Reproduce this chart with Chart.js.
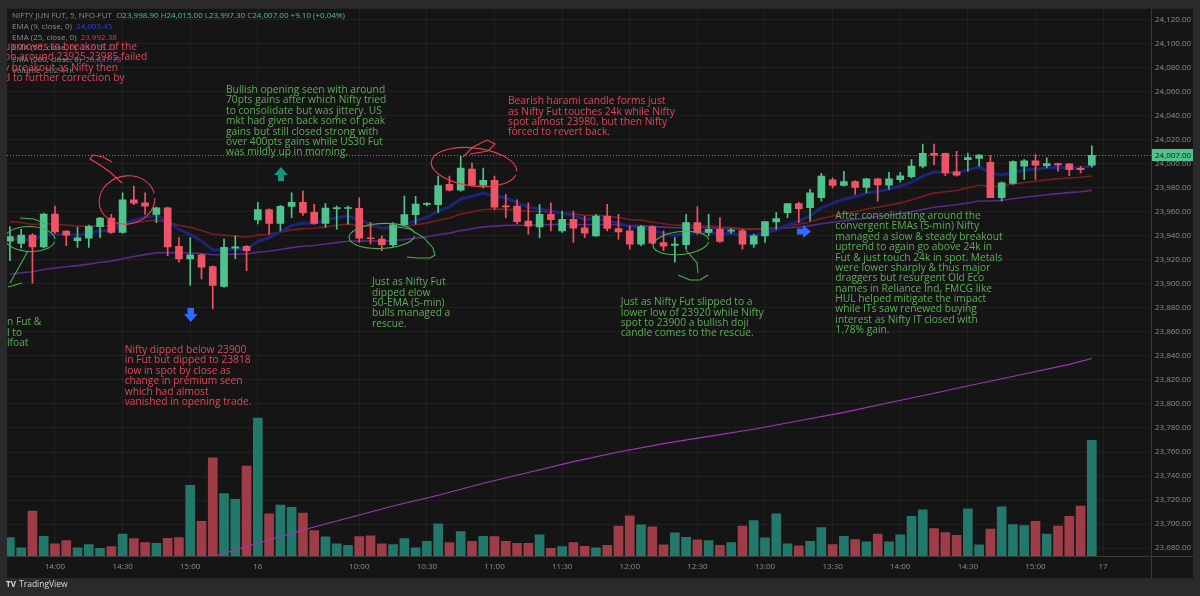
<!DOCTYPE html>
<html>
<head>
<meta charset="utf-8">
<title>NIFTY JUN FUT 5m</title>
<script src="https://cdn.jsdelivr.net/npm/chart.js@4.4.0/dist/chart.umd.min.js"></script>
<style>
  html, body { margin: 0; padding: 0; background: #2a2a2a; }
  canvas { display: block; }
</style>
</head>
<body>
<canvas id="chart" width="1200" height="596"></canvas>
<script>
// bar index 0 = 13:40 on the 15th, index 22 = 09:15 on the 16th (5-min bars)
const opens = [
  23935.6, 23933.7, 23940.6, 23930.9, 23958.2, 23943.9, 23935.9, 23938.1, 23947.7, 23954.9,
  23942.8, 23970.1, 23967.5, 23957.9, 23963.4, 23931.2, 23920.7, 23924.3, 23914.4, 23897.9,
  23929.8, 23931.2, 23953.3, 23961.8, 23950.3, 23964.6, 23967.9, 23959.6, 23950.3, 23962.7,
  23962.8, 23962.9, 23938.3, 23937.3, 23932.6, 23949.2, 23957.7, 23966.2, 23966.0, 23983.0,
  23978.1, 23995.7, 23982.2, 23986.3, 23964.6, 23964.8, 23952.4, 23947.5, 23957.9, 23944.1,
  23953.8, 23946.6, 23940.0, 23956.5, 23946.1, 23944.1, 23933.1, 23947.7, 23934.5, 23932.1,
  23932.6, 23951.0, 23942.8, 23945.5, 23944.0, 23944.1, 23933.1, 23940.0, 23951.6, 23959.4,
  23966.8, 23963.5, 23971.8, 23986.7, 23982.0, 23985.3, 23980.3, 23987.5, 23982.2, 23986.9,
  23989.4, 23998.0, 24008.7, 24008.7, 23993.3, 24003.5, 24004.6, 24001.3, 23971.8, 23983.6,
  23998.0, 24002.4, 23998.5, 24000.2, 23999.9, 23996.3, 23998.9
];
const highs = [
  23947.7, 23945.5, 23942.0, 23959.0, 23964.8, 23944.5, 23947.2, 23949.0, 23955.5, 23958.0,
  23975.8, 23981.4, 23975.8, 23964.0, 23964.0, 23938.6, 23938.6, 23925.0, 23915.0, 23937.3,
  23940.0, 23932.0, 23968.0, 23962.5, 23965.5, 23975.9, 23977.3, 23966.2, 23966.8, 23964.9,
  23964.9, 23971.7, 23951.1, 23940.0, 23951.1, 23973.1, 23973.0, 23967.8, 23989.7, 23989.7,
  24006.2, 24000.7, 23996.5, 23989.7, 23974.5, 23970.0, 23967.6, 23966.2, 23967.6, 23960.7,
  23960.7, 23956.5, 23957.9, 23966.2, 23957.9, 23948.3, 23948.8, 23948.3, 23944.1, 23938.6,
  23957.9, 23964.3, 23957.9, 23955.2, 23946.0, 23945.5, 23941.4, 23952.0, 23959.3, 23966.8,
  23968.0, 23978.7, 23992.0, 23988.3, 23993.8, 23986.0, 23988.0, 23988.0, 23993.0, 23993.0,
  24003.5, 24016.4, 24016.4, 24009.0, 24010.3, 24009.0, 24007.6, 24006.8, 23985.0, 24002.4,
  24003.5, 24007.6, 24004.9, 24000.7, 24000.5, 23998.0, 24015.0
];
const lows = [
  23919.4, 23930.0, 23900.6, 23930.0, 23942.0, 23931.8, 23930.4, 23930.4, 23938.6, 23942.0,
  23942.0, 23966.0, 23957.9, 23951.0, 23923.5, 23918.0, 23898.7, 23904.2, 23879.4, 23897.0,
  23921.0, 23911.1, 23950.0, 23941.4, 23944.2, 23955.2, 23957.0, 23949.7, 23947.0, 23945.6,
  23949.7, 23934.5, 23933.2, 23927.7, 23931.0, 23948.5, 23949.7, 23964.9, 23959.3, 23977.3,
  23977.3, 23981.4, 23980.0, 23962.1, 23955.2, 23950.0, 23941.4, 23938.6, 23944.1, 23942.8,
  23934.5, 23938.6, 23939.5, 23944.1, 23937.3, 23929.0, 23931.8, 23933.1, 23927.6, 23918.0,
  23929.0, 23941.4, 23940.0, 23934.5, 23942.0, 23929.0, 23930.4, 23934.5, 23945.5, 23955.2,
  23951.1, 23952.5, 23969.0, 23980.0, 23981.4, 23974.5, 23975.9, 23969.0, 23978.7, 23984.7,
  23988.3, 23996.6, 23999.3, 23990.2, 23989.7, 23993.8, 23998.0, 23971.8, 23969.0, 23983.0,
  23987.0, 23987.0, 23996.6, 23993.8, 23990.2, 23992.4, 23997.3
];
const closes = [
  23939.5, 23940.6, 23930.7, 23958.2, 23943.3, 23940.6, 23938.4, 23948.0, 23954.9, 23942.8,
  23970.1, 23967.3, 23964.8, 23963.4, 23930.9, 23920.7, 23924.3, 23913.9, 23898.7, 23930.4,
  23930.9, 23927.6, 23961.8, 23950.3, 23964.6, 23967.9, 23959.3, 23950.3, 23963.2, 23963.1,
  23963.2, 23938.1, 23937.6, 23932.6, 23949.2, 23957.7, 23966.5, 23966.6, 23981.9, 23978.1,
  23996.5, 23982.2, 23986.3, 23964.0, 23964.2, 23951.9, 23948.0, 23957.9, 23953.5, 23953.8,
  23946.4, 23942.2, 23956.5, 23946.1, 23943.3, 23933.1, 23947.7, 23934.0, 23931.5, 23933.1,
  23951.0, 23942.8, 23945.5, 23935.3, 23944.3, 23933.1, 23940.0, 23951.9, 23954.3, 23966.8,
  23962.7, 23975.9, 23989.7, 23982.0, 23985.3, 23980.3, 23987.5, 23982.5, 23987.5, 23990.0,
  23998.2, 24008.7, 24007.3, 23992.4, 23990.5, 24005.1, 24007.3, 23971.8, 23984.2, 24001.8,
  24002.4, 23998.8, 24000.2, 23999.1, 23995.2, 23995.2, 24007.0
];
// volume in thousands
const volumes = [
  32.3, 14.1, 78.7, 34.6, 21.1, 27.0, 14.1, 20.0, 13.5, 16.4,
  38.2, 30.5, 23.5, 22.3, 31.1, 32.3, 123.9, 60.5, 172.0, 109.2,
  99.2, 157.3, 241.3, 74.0, 89.2, 85.1, 75.1, 44.6, 33.5, 21.1,
  18.8, 34.0, 35.2, 21.1, 20.0, 30.5, 14.1, 25.8, 56.4, 23.5,
  42.9, 25.8, 34.6, 34.0, 25.8, 22.3, 22.3, 37.0, 13.5, 16.4,
  23.5, 17.0, 14.1, 18.8, 52.2, 70.4, 54.6, 51.1, 19.4, 40.5,
  32.9, 28.2, 27.0, 18.8, 23.5, 52.2, 62.2, 31.7, 74.0, 21.1,
  17.6, 25.8, 49.9, 20.0, 34.6, 28.8, 24.7, 38.2, 24.7, 37.0,
  69.3, 81.0, 48.1, 41.1, 36.4, 82.8, 19.4, 47.0, 86.3, 55.2,
  53.4, 60.5, 38.2, 52.2, 69.3, 87.5, 202.4
];
const ema9 = [
  23937.0, 23937.7, 23936.3, 23940.7, 23941.2, 23941.1, 23940.5, 23942.0, 23944.6, 23944.2,
  23949.4, 23953.0, 23955.3, 23956.9, 23951.7, 23945.5, 23941.2, 23935.7, 23928.3, 23928.7,
  23929.1, 23928.8, 23935.4, 23938.4, 23943.6, 23948.5, 23950.7, 23950.6, 23953.1, 23955.1,
  23956.7, 23953.0, 23949.9, 23946.4, 23947.0, 23949.2, 23952.7, 23955.4, 23960.7, 23964.2,
  23970.7, 23973.0, 23975.6, 23973.3, 23971.5, 23967.6, 23963.7, 23962.5, 23960.7, 23959.3,
  23956.7, 23953.8, 23954.3, 23952.7, 23950.8, 23947.2, 23947.3, 23944.6, 23942.0, 23940.2,
  23942.4, 23942.5, 23943.1, 23941.5, 23942.1, 23940.3, 23940.2, 23942.6, 23944.9, 23949.3,
  23952.0, 23956.8, 23963.4, 23967.1, 23970.7, 23972.6, 23975.6, 23977.0, 23979.1, 23981.3,
  23984.7, 23989.5, 23993.1, 23993.0, 23992.5, 23995.0, 23997.5, 23992.4, 23990.8, 23993.0,
  23994.9, 23995.7, 23996.6, 23997.1, 23996.7, 23996.4, 23998.5
];
const ema25 = [
  23952.0, 23951.1, 23949.5, 23950.2, 23949.7, 23949.0, 23948.1, 23948.1, 23948.6, 23948.2,
  23949.8, 23951.2, 23952.2, 23953.1, 23951.3, 23948.9, 23947.1, 23944.5, 23941.3, 23940.5,
  23939.8, 23938.8, 23940.6, 23941.3, 23943.1, 23945.0, 23946.0, 23946.3, 23947.6, 23948.8,
  23949.8, 23948.8, 23948.0, 23946.8, 23947.0, 23947.8, 23949.3, 23950.6, 23953.0, 23954.9,
  23958.1, 23959.9, 23961.9, 23962.1, 23962.3, 23961.5, 23960.5, 23960.3, 23959.8, 23959.3,
  23958.4, 23957.1, 23957.1, 23956.3, 23955.3, 23953.6, 23953.1, 23951.6, 23950.1, 23948.8,
  23949.0, 23948.5, 23948.3, 23947.3, 23947.1, 23946.1, 23945.6, 23946.1, 23946.7, 23948.6,
  23949.6, 23951.6, 23954.5, 23956.5, 23958.7, 23960.3, 23962.4, 23963.8, 23965.6, 23967.5,
  23969.9, 23972.9, 23975.6, 23976.8, 23977.8, 23980.0, 23982.1, 23981.3, 23981.5, 23983.0,
  23984.4, 23985.5, 23986.6, 23987.6, 23988.2, 23988.8, 23989.9
];
const ema50 = [
  23908.0, 23909.3, 23910.1, 23912.0, 23913.2, 23914.3, 23915.2, 23916.5, 23918.0, 23919.0,
  23921.0, 23922.8, 23924.4, 23925.9, 23926.1, 23925.9, 23925.8, 23925.3, 23924.3, 23924.5,
  23924.8, 23924.9, 23926.3, 23927.2, 23928.7, 23930.2, 23931.3, 23932.0, 23933.2, 23934.4,
  23935.5, 23935.6, 23935.7, 23935.6, 23936.1, 23936.9, 23938.1, 23939.2, 23940.9, 23942.3,
  23944.4, 23945.9, 23947.5, 23948.1, 23948.7, 23948.8, 23948.8, 23949.2, 23949.4, 23949.6,
  23949.5, 23949.2, 23949.5, 23949.4, 23949.2, 23948.6, 23948.5, 23947.9, 23947.3, 23946.7,
  23946.9, 23946.7, 23946.7, 23946.2, 23946.1, 23945.6, 23945.4, 23945.7, 23946.0, 23946.8,
  23947.4, 23948.5, 23950.1, 23951.3, 23952.6, 23953.7, 23955.0, 23956.1, 23957.3, 23958.6,
  23960.1, 23962.0, 23963.8, 23964.9, 23965.9, 23967.4, 23969.0, 23969.1, 23969.7, 23970.9,
  23972.1, 23973.2, 23974.2, 23975.2, 23976.0, 23976.7, 23977.9
];
// EMA 200 read every few bars
const ema200Idx = [0, 4, 8, 12, 16, 18, 22, 26, 30, 34, 38, 42, 46, 50, 54, 58, 62, 66, 70, 74, 78, 82, 86, 90, 94, 96];
const ema200 = [23628, 23638, 23649, 23659, 23668, 23673, 23684, 23695, 23705, 23715, 23724, 23734, 23743,
  23752, 23760, 23767, 23773, 23779, 23786, 23793, 23801, 23809, 23817, 23825, 23833, 23837.8];

const timeTickIdx = [4, 10, 16, 22, 31, 37, 43, 49, 55, 61, 67, 73, 79, 85, 91, 97];
const timeTickLabels = ['14:00', '14:30', '15:00', '16', '10:00', '10:30', '11:00', '11:30',
  '12:00', '12:30', '13:00', '13:30', '14:00', '14:30', '15:00', '17'];
const priceTicks = [23680, 23700, 23720, 23740, 23760, 23780, 23800, 23820, 23840, 23860, 23880, 23900,
  23920, 23940, 23960, 23980, 24000, 24020, 24040, 24060, 24080, 24100, 24120];
const legendEma = ['24,003.45', '23,992.38', '23,979.21', '23,837.78'];
const legendVolume = '202.41K';

const UP = '#4fc38c', DOWN = '#ef5466';
const VOL_UP = '#22786a', VOL_DOWN = '#9e3d48';

const idx = closes.map((c, i) => i);
const isUp = idx.map(i => closes[i] >= opens[i]);

const fmt = v => v.toLocaleString('en-US', { minimumFractionDigits: 2, maximumFractionDigits: 2 });

// notes written on the chart
const notes = [
  { x: 4, y: 46.7, color: '#e0475a', lines: ['upmoves to breakout of the', 'on around 23925-23985 failed', 'y breakout as Nifty then', 'd to further correction by'] },
  { x: 226, y: 90, color: '#5cae55', lines: ['Bullish opening seen with around', '70pts gains after which Nifty tried', 'to consolidate but was jittery. US', 'mkt had given back some of peak', 'gains but still closed strong with', 'over 400pts gains while US30 Fut', 'was mildly up in morning.'] },
  { x: 508, y: 101.3, color: '#e0475a', lines: ['Bearish harami candle forms just', 'as Nifty Fut touches 24k while Nifty', 'spot almost 23980, but then Nifty', 'forced to revert back.'] },
  { x: 372, y: 282.3, color: '#5cae55', lines: ['Just as Nifty Fut', 'dipped elow', '50-EMA (5-min)', 'bulls managed a', 'rescue.'] },
  { x: 124.7, y: 350, color: '#e0475a', lines: ['Nifty dipped below 23900', 'in Fut but dipped to 23818', 'low in spot by close as', 'change in premium seen', 'which had almost', 'vanished in opening trade.'] },
  { x: 620.7, y: 302.3, color: '#5cae55', lines: ['Just as Nifty Fut slipped to a', 'lower low of 23920 while Nifty', 'spot to 23900 a bullish doji', 'candle comes to the rescue.'] },
  { x: 835.3, y: 216, color: '#5cae55', lines: ['After consolidating around the', 'convergent EMAs (5-min) Nifty', 'managed a slow & steady breakout', 'uptrend to again go above 24k in', 'Fut & just touch 24k in spot. Metals', 'were lower sharply & thus major', 'draggers but resurgent Old Eco', 'names in Reliance Ind, FMCG like', 'HUL helped mitigate the impact', 'while ITs saw renewed buying', 'interest as Nifty IT closed with', '1.78% gain.'] },
  { x: 7, y: 322.3, color: '#5cae55', lines: ['n Fut &', 'l to', 'lfoat'] }
];

function drawRuns(c, x, y, parts) {
  parts.forEach(p => {
    c.fillStyle = p[1];
    c.fillText(p[0], x, y);
    x += c.measureText(p[0]).width;
  });
}

function stroke(c, color, pts) {
  c.strokeStyle = color;
  c.beginPath();
  c.moveTo(pts[0][0], pts[0][1]);
  for (let k = 1; k < pts.length; k++) c.lineTo(pts[k][0], pts[k][1]);
  c.stroke();
}

function ring(c, color, cx, cy, rx, ry, rot) {
  c.strokeStyle = color;
  c.beginPath();
  c.ellipse(cx, cy, rx, ry, rot, 0.15, Math.PI * 2 - 0.05);
  c.stroke();
}

const frame = {
  id: 'frame',
  beforeDraw(chart) {
    const c = chart.ctx, a = chart.chartArea, ys = chart.scales.y, xs = chart.scales.x;
    c.save();
    c.fillStyle = '#2a2a2a';
    c.fillRect(0, 0, chart.width, chart.height);
    c.fillStyle = '#151515';
    c.fillRect(a.left, a.top, ys.right - a.left, xs.bottom - a.top);
    c.restore();
  },
  afterDraw(chart) {
    const c = chart.ctx, a = chart.chartArea, ys = chart.scales.y, xs = chart.scales.x;
    c.save();
    // separators
    c.lineWidth = 1;
    stroke(c, '#3a3a3a', [[a.right + 0.5, a.top], [a.right + 0.5, xs.bottom]]);
    stroke(c, '#3a3a3a', [[a.left, a.bottom + 0.5], [ys.right, a.bottom + 0.5]]);

    // last price line + tag
    const last = closes[closes.length - 1];
    const py = Math.round(ys.getPixelForValue(last)) + 0.5;
    c.setLineDash([1, 2]);
    stroke(c, 'rgba(79,195,140,0.8)', [[a.left, py], [a.right, py]]);
    c.setLineDash([]);
    c.fillStyle = UP;
    c.fillRect(a.right + 1, py - 6.5, ys.right - a.right - 1, 12);
    c.fillStyle = '#0f1f17';
    c.font = '8px "Open Sans"';
    c.textBaseline = 'middle';
    c.fillText(fmt(last), a.right + 4, py);

    // pane clip for everything drawn on the chart
    c.beginPath();
    c.rect(a.left, a.top, a.right - a.left, a.bottom - a.top);
    c.clip();

    // legend
    c.font = '8px "Open Sans"';
    const gray = '#8f8f8f';
    const n = closes.length - 1;
    const chg = closes[n] - 23997.9;
    drawRuns(c, 12, 16, [['NIFTY JUN FUT, 5, NFO-FUT  ', gray], ['O', gray], [fmt(opens[n]), UP],
      [' H', gray], [fmt(highs[n]), UP], [' L', gray], [fmt(lows[n]), UP], [' C', gray], [fmt(closes[n]), UP],
      [' +' + chg.toFixed(2) + ' (+0.04%)', UP]]);
    drawRuns(c, 12, 26.7, [['EMA (9, close, 0)  ', gray], [legendEma[0], '#2f3fd8']]);
    drawRuns(c, 12, 37.3, [['EMA (25, close, 0)  ', gray], [legendEma[1], '#e53945']]);
    drawRuns(c, 12, 48.2, [['EMA (50, close, 0)  ', gray], [legendEma[2], '#8a3fc0']]);
    drawRuns(c, 12, 59.6, [['EMA (200, close, 0)  ', gray], [legendEma[3], '#b23ccc']]);
    drawRuns(c, 12, 71, [['Volume  ', gray], [legendVolume, '#2f9e8a']]);

    // notes
    c.font = '11px "Open Sans"';
    notes.forEach(nt => {
      c.fillStyle = nt.color;
      nt.lines.forEach((t, k) => {
        c.save();
        c.translate(nt.x, nt.y + k * 10.35);
        c.scale(0.93, 1);
        c.fillText(t, 0, 0);
        c.restore();
      });
    });

    // hand-drawn marks
    const G = '#4cae4f', R = '#ef3d50';
    c.lineWidth = 1.1;
    ring(c, G, 30, 239, 25, 12.5, 0.03);
    stroke(c, G, [[20, 218], [34, 219], [46, 224]]);
    stroke(c, G, [[28, 251], [19, 267], [10, 283]]);
    stroke(c, G, [[8, 287], [22, 283]]);

    ring(c, R, 127, 200, 28, 24, -0.2);
    stroke(c, R, [[122, 183], [110, 172], [100, 165], [90, 159], [93, 155], [103, 157], [112, 162]]);

    ring(c, G, 382, 236, 33, 12.5, -0.05);
    stroke(c, G, [[392, 226], [410, 229], [424, 238], [433, 248], [435, 255], [430, 258]]);
    stroke(c, G, [[407, 257], [418, 258], [430, 258]]);

    ring(c, R, 474, 167, 43, 19, 0.12);
    stroke(c, R, [[463, 157], [473, 147], [487, 140], [495, 144], [488, 151], [470, 154]]);

    ring(c, G, 681, 243, 28, 11.5, -0.1);
    stroke(c, G, [[686, 250], [697, 263], [698, 273]]);
    stroke(c, G, [[678, 275], [690, 280], [700, 280], [708, 275]]);

    // arrows
    c.fillStyle = '#16957f';
    c.beginPath();
    c.moveTo(274, 175); c.lineTo(281, 167); c.lineTo(288, 175); c.lineTo(284, 175);
    c.lineTo(284, 181); c.lineTo(278, 181); c.lineTo(278, 175); c.closePath(); c.fill();

    c.fillStyle = '#2f6bff';
    c.beginPath();
    c.moveTo(187.5, 308); c.lineTo(194, 308); c.lineTo(194, 314); c.lineTo(197.5, 314);
    c.lineTo(190.7, 322); c.lineTo(184, 314); c.lineTo(187.5, 314); c.closePath(); c.fill();

    c.beginPath();
    c.moveTo(797, 228.5); c.lineTo(803, 228.5); c.lineTo(803, 225); c.lineTo(811, 231.6);
    c.lineTo(803, 238); c.lineTo(803, 234.5); c.lineTo(797, 234.5); c.closePath(); c.fill();
    c.restore();

    // footer
    c.save();
    c.fillStyle = '#d8d8d8';
    c.textBaseline = 'middle';
    c.font = 'bold 8px "Open Sans"';
    c.fillText('TV', 6, 584.5);
    c.font = '8.5px "Open Sans"';
    c.fillText('TradingView', 19, 584.5);
    c.restore();
  }
};

Chart.defaults.font.family = '"Open Sans", sans-serif';

const chart = new Chart(document.getElementById('chart'), {
  type: 'bar',
  data: {
    datasets: [
      {
        label: 'Body', order: 0, grouped: false, barThickness: 7, minBarLength: 1,
        data: idx.map(i => ({ x: i, y: [opens[i], closes[i]] })),
        backgroundColor: isUp.map(u => u ? UP : DOWN)
      },
      {
        label: 'Wick', order: 1, grouped: false, barThickness: 1,
        data: idx.map(i => ({ x: i, y: [lows[i], highs[i]] })),
        backgroundColor: isUp.map(u => u ? UP : DOWN)
      },
      {
        type: 'line', label: 'EMA 9', order: 2, borderColor: 'rgba(30,36,125,0.95)', borderWidth: 3,
        pointRadius: 0, data: idx.map(i => ({ x: i, y: ema9[i] }))
      },
      {
        type: 'line', label: 'EMA 25', order: 2, borderColor: 'rgba(128,28,32,0.95)', borderWidth: 1.6,
        pointRadius: 0, data: idx.map(i => ({ x: i, y: ema25[i] }))
      },
      {
        type: 'line', label: 'EMA 50', order: 2, borderColor: 'rgba(92,42,145,0.95)', borderWidth: 1.6,
        pointRadius: 0, data: idx.map(i => ({ x: i, y: ema50[i] }))
      },
      {
        type: 'line', label: 'EMA 200', order: 3, borderColor: '#a632bd', borderWidth: 1.1,
        pointRadius: 0, data: ema200Idx.map((i, k) => ({ x: i, y: ema200[k] }))
      },
      {
        label: 'Volume', order: 4, grouped: false, barThickness: 9, yAxisID: 'yv',
        data: idx.map(i => ({ x: i, y: volumes[i] })),
        backgroundColor: isUp.map(u => u ? VOL_UP : VOL_DOWN)
      }
    ]
  },
  options: {
    responsive: false,
    animation: false,
    events: [],
    layout: { padding: { left: 7, top: 7, right: 7, bottom: 18 } },
    plugins: { legend: { display: false }, tooltip: { enabled: false } },
    scales: {
      x: {
        type: 'linear', min: -0.257, max: 101.25, offset: false,
        grid: { color: 'rgba(255,255,255,0.05)', offset: false, drawTicks: false },
        border: { display: false },
        afterBuildTicks: s => { s.ticks = timeTickIdx.map(v => ({ value: v })); },
        afterFit: s => { s.height = 22; },
        ticks: {
          autoSkip: false, maxRotation: 0, padding: 6, color: '#8d8d8d', font: { size: 8 },
          callback: v => timeTickLabels[timeTickIdx.indexOf(v)]
        }
      },
      y: {
        position: 'right', min: 23673.4, max: 24129.1,
        grid: { color: 'rgba(255,255,255,0.05)', drawTicks: false },
        border: { display: false },
        afterBuildTicks: s => { s.ticks = priceTicks.map(v => ({ value: v })); },
        afterFit: s => { s.width = 42; },
        ticks: { padding: 4, color: '#8d8d8d', font: { size: 8 }, callback: v => fmt(v) }
      },
      yv: { display: false, min: 0, max: 958 }
    }
  },
  plugins: [frame]
});
</script>
</body>
</html>
